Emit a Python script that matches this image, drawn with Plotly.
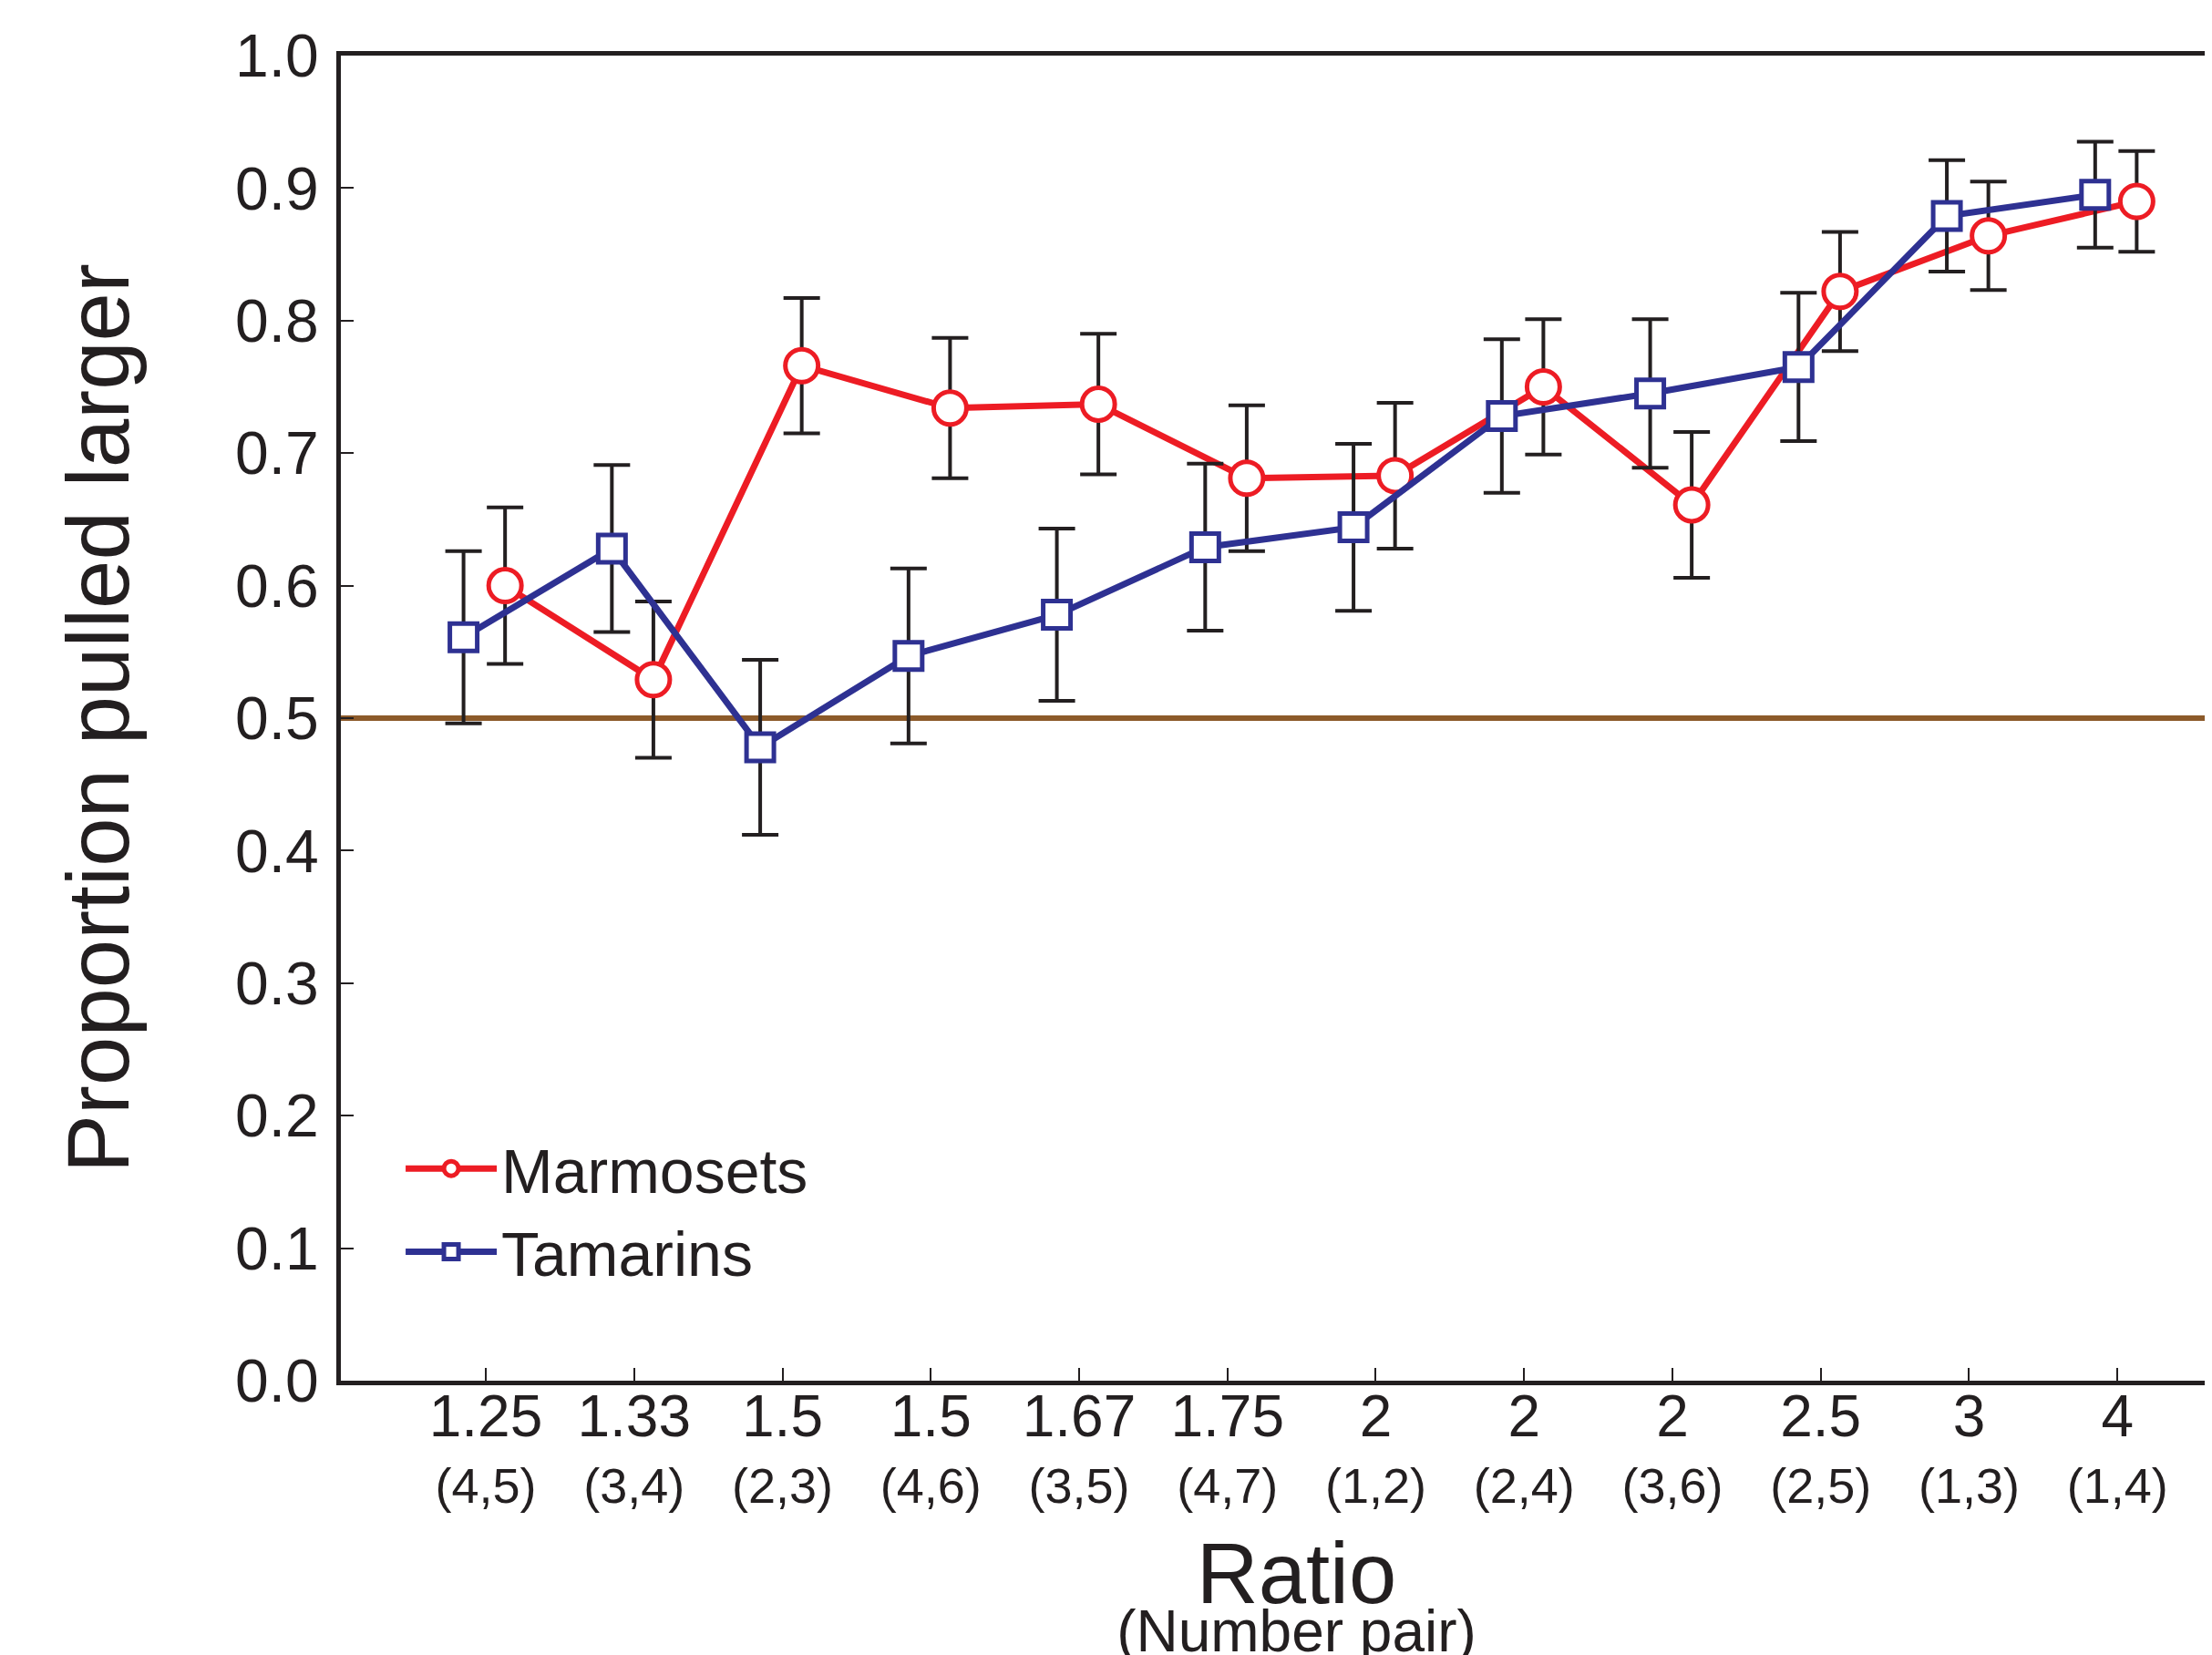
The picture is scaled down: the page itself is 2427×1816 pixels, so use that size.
import plotly.graph_objects as go

# ---- data ----
ratios = ["1.25", "1.33", "1.5", "1.5", "1.67", "1.75", "2", "2", "2", "2.5", "3", "4"]
pairs = ["(4,5)", "(3,4)", "(2,3)", "(4,6)", "(3,5)", "(4,7)", "(1,2)", "(2,4)", "(3,6)", "(2,5)", "(1,3)", "(1,4)"]
marmosets = [0.600, 0.529, 0.766, 0.734, 0.737, 0.681, 0.683, 0.750, 0.661, 0.822, 0.864, 0.890]
marmosets_err = [0.059, 0.059, 0.051, 0.053, 0.053, 0.055, 0.055, 0.051, 0.055, 0.045, 0.041, 0.038]
tamarins = [0.561, 0.628, 0.478, 0.547, 0.578, 0.629, 0.644, 0.728, 0.745, 0.765, 0.879, 0.895]
tamarins_err = [0.065, 0.063, 0.066, 0.066, 0.065, 0.063, 0.063, 0.058, 0.056, 0.056, 0.042, 0.040]
chance = 0.5
y_ticks = [0.0, 0.1, 0.2, 0.3, 0.4, 0.5, 0.6, 0.7, 0.8, 0.9, 1.0]

# ---- style ----
FONT = "Liberation Sans, Arial, Helvetica, sans-serif"
INK = "#231f20"
RED = "#ed1c24"
BLUE = "#2e3192"
BROWN = "#8c5a2a"
X_RANGE = [-0.977, 11.908]   # plot continues past the right edge of the picture

idx = list(range(len(ratios)))
marm_x = [i + 0.13 for i in idx]
tam_x = [i - 0.15 for i in idx]

fig = go.Figure()
fig.add_trace(go.Scatter(
    x=marm_x, y=marmosets, name="Marmosets", mode="lines+markers",
    line=dict(color=RED, width=7),
    marker=dict(symbol="circle", size=36, color="white", line=dict(color=RED, width=5)),
    error_y=dict(type="data", array=marmosets_err, color=INK, thickness=4, width=20),
))
fig.add_trace(go.Scatter(
    x=tam_x, y=tamarins, name="Tamarins", mode="lines+markers", xaxis="x2",
    line=dict(color=BLUE, width=7),
    marker=dict(symbol="square", size=30, color="white", line=dict(color=BLUE, width=5)),
    error_y=dict(type="data", array=tamarins_err, color=INK, thickness=4, width=20),
))

fig.add_shape(type="line", xref="paper", x0=0, x1=1, yref="y", y0=chance, y1=chance,
              line=dict(color=BROWN, width=6), layer="below")

fig.update_layout(
    width=2463, height=1848,
    template="none",
    paper_bgcolor="white", plot_bgcolor="white",
    font=dict(family=FONT, color=INK),
    margin=dict(l=366, r=0, t=53, b=341),
    showlegend=True,
    legend=dict(x=0.0315, y=0.195, xanchor="left", yanchor="top",
                font=dict(size=68, family=FONT, color=INK),
                bgcolor="rgba(0,0,0,0)", itemwidth=100, tracegroupgap=0),
    xaxis=dict(
        range=X_RANGE, tickmode="array", tickvals=idx, ticktext=ratios,
        ticks="inside", ticklen=14, tickwidth=2, tickcolor=INK,
        showline=True, linecolor=INK, linewidth=5, mirror=True,
        showgrid=False, zeroline=False, automargin=False,
        tickfont=dict(size=64, family=FONT, color=INK), ticklabelstandoff=-21,
        title=dict(text="Ratio", font=dict(size=94, family=FONT, color=INK), standoff=106),
    ),
    xaxis2=dict(
        overlaying="x", anchor="y", side="bottom", matches="x",
        range=X_RANGE, tickmode="array", tickvals=idx, ticktext=pairs,
        ticks="", showline=False, showgrid=False, zeroline=False, automargin=False,
        tickfont=dict(size=54, family=FONT, color=INK), ticklabelstandoff=79,
        title=dict(text="(Number pair)", font=dict(size=64, family=FONT, color=INK), standoff=108),
    ),
    yaxis=dict(
        range=[0, 1.0], tickmode="array", tickvals=y_ticks,
        ticktext=[f"{v:.1f}" for v in y_ticks],
        ticks="inside", ticklen=14, tickwidth=2, tickcolor=INK,
        showline=True, linecolor=INK, linewidth=5,
        showgrid=False, zeroline=False, automargin=False,
        tickfont=dict(size=66, family=FONT, color=INK), ticklabelstandoff=6,
        title=dict(text="Proportion pulled larger", font=dict(size=96, family=FONT, color=INK), standoff=86),
    ),
)

fig.write_html("out.html")
